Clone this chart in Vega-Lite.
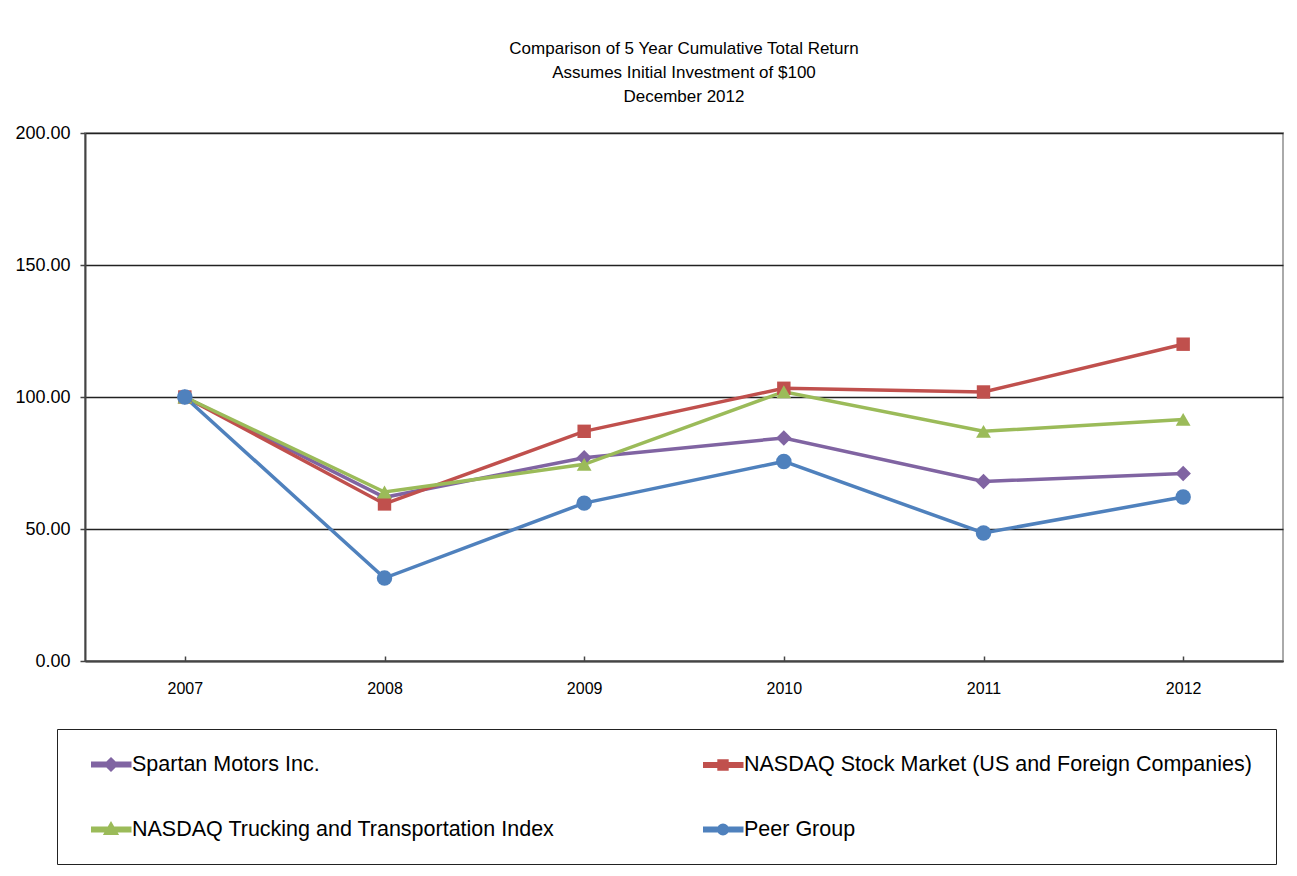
{
  "$schema": "https://vega.github.io/schema/vega-lite/v6.json",
  "autosize": "none",
  "width": 1198,
  "height": 528,
  "padding": {"left": 85, "top": 133, "right": 14, "bottom": 215},
  "background": "white",
  "title": {
    "text": ["Comparison  of 5 Year Cumulative  Total Return", "Assumes Initial Investment  of $100", "December 2012"],
    "font": "Liberation Sans",
    "fontSize": 17,
    "fontWeight": "normal",
    "color": "black",
    "anchor": "middle",
    "lineHeight": 24,
    "offset": 18
  },
  "config": {
    "font": "Liberation Sans",
    "view": {"stroke": "#aaaaaa", "strokeWidth": 2}
  },
  "data": {
    "values": [
      {"year": "2007", "series": "Spartan Motors Inc.", "value": 100},
      {"year": "2008", "series": "Spartan Motors Inc.", "value": 62},
      {"year": "2009", "series": "Spartan Motors Inc.", "value": 77},
      {"year": "2010", "series": "Spartan Motors Inc.", "value": 84.5},
      {"year": "2011", "series": "Spartan Motors Inc.", "value": 68},
      {"year": "2012", "series": "Spartan Motors Inc.", "value": 71},
      {"year": "2007", "series": "NASDAQ Stock Market (US and Foreign Companies)", "value": 100},
      {"year": "2008", "series": "NASDAQ Stock Market (US and Foreign Companies)", "value": 59.5},
      {"year": "2009", "series": "NASDAQ Stock Market (US and Foreign Companies)", "value": 87},
      {"year": "2010", "series": "NASDAQ Stock Market (US and Foreign Companies)", "value": 103.3},
      {"year": "2011", "series": "NASDAQ Stock Market (US and Foreign Companies)", "value": 101.9},
      {"year": "2012", "series": "NASDAQ Stock Market (US and Foreign Companies)", "value": 120},
      {"year": "2007", "series": "NASDAQ Trucking and Transportation Index", "value": 100},
      {"year": "2008", "series": "NASDAQ Trucking and Transportation Index", "value": 64},
      {"year": "2009", "series": "NASDAQ Trucking and Transportation Index", "value": 74.5},
      {"year": "2010", "series": "NASDAQ Trucking and Transportation Index", "value": 102},
      {"year": "2011", "series": "NASDAQ Trucking and Transportation Index", "value": 87},
      {"year": "2012", "series": "NASDAQ Trucking and Transportation Index", "value": 91.5},
      {"year": "2007", "series": "Peer Group", "value": 100},
      {"year": "2008", "series": "Peer Group", "value": 31.4},
      {"year": "2009", "series": "Peer Group", "value": 59.8},
      {"year": "2010", "series": "Peer Group", "value": 75.6},
      {"year": "2011", "series": "Peer Group", "value": 48.5},
      {"year": "2012", "series": "Peer Group", "value": 62.1}
    ]
  },
  "encoding": {
    "x": {
      "field": "year",
      "type": "ordinal",
      "scale": {"type": "point", "padding": 0.5},
      "axis": {
        "title": null,
        "labelAngle": 0,
        "labelFontSize": 16,
        "labelColor": "black",
        "domainColor": "#444",
        "domainWidth": 2,
        "tickColor": "#444",
        "tickWidth": 1.5,
        "tickSize": -5,
        "labelPadding": 24,
        "grid": false
      }
    },
    "y": {
      "field": "value",
      "type": "quantitative",
      "scale": {"domain": [0, 200]},
      "axis": {
        "title": null,
        "values": [0, 50, 100, 150, 200],
        "format": ".2f",
        "labelFontSize": 18,
        "labelColor": "black",
        "labelPadding": 10,
        "domainColor": "#444",
        "domainWidth": 2,
        "tickColor": "#444",
        "tickWidth": 1.5,
        "tickSize": 5,
        "grid": true,
        "gridColor": "#222",
        "gridWidth": 1.3,
        "gridOpacity": 1
      }
    }
  },
  "layer": [
    {
      "mark": {"type": "point", "filled": true, "opacity": 0},
      "encoding": {
        "color": {
          "field": "series",
          "type": "nominal",
          "scale": {
            "domain": ["Spartan Motors Inc.", "NASDAQ Stock Market (US and Foreign Companies)", "NASDAQ Trucking and Transportation Index", "Peer Group"],
            "range": ["#8064A2", "#C0504D", "#9BBB59", "#4F81BD"]
          },
          "legend": {
            "title": null,
            "orient": "none",
            "legendX": -28,
            "legendY": 596,
            "direction": "horizontal",
            "columns": 2,
            "columnPadding": 138,
            "rowPadding": 42,
            "padding": 24,
            "strokeColor": "#222",
            "symbolSize": 400,
            "symbolStrokeWidth": 3,
            "symbolOpacity": 1,
            "labelFontSize": 21.5,
            "labelFont": "Liberation Sans",
            "labelColor": "black",
            "labelOffset": 28,
            "labelLimit": 0
          }
        },
        "shape": {
          "field": "series",
          "type": "nominal",
          "scale": {
            "domain": ["Spartan Motors Inc.", "NASDAQ Stock Market (US and Foreign Companies)", "NASDAQ Trucking and Transportation Index", "Peer Group"],
            "range": [
              "M0,-0.15H3.75V0.15H0ZM1.85,-0.55L2.4,0L1.85,0.55L1.3,0Z",
              "M0,-0.15H3.75V0.15H0ZM1.43,-0.42H2.27V0.42H1.43Z",
              "M0,-0.15H3.75V0.15H0ZM1.85,-0.55L2.4,0.4H1.3Z",
              "M0,-0.15H3.75V0.15H0ZM2.3,0A0.45,0.45,0,1,1,1.4,0A0.45,0.45,0,1,1,2.3,0Z"
            ]
          },
          "legend": {
            "title": null,
            "orient": "none",
            "legendX": -28,
            "legendY": 596,
            "direction": "horizontal",
            "columns": 2,
            "columnPadding": 138,
            "rowPadding": 42,
            "padding": 24,
            "strokeColor": "#222",
            "symbolSize": 400,
            "symbolStrokeWidth": 3,
            "symbolOpacity": 1,
            "labelFontSize": 21.5,
            "labelFont": "Liberation Sans",
            "labelColor": "black",
            "labelOffset": 28,
            "labelLimit": 0
          }
        }
      }
    },
    {
      "mark": {"type": "line", "strokeWidth": 3.5},
      "encoding": {"color": {"field": "series", "type": "nominal", "legend": null}}
    },
    {
      "transform": [{"filter": "datum.series === 'Spartan Motors Inc.'"}],
      "mark": {"type": "point", "filled": true, "opacity": 1, "shape": "diamond", "size": 240},
      "encoding": {"color": {"field": "series", "type": "nominal", "legend": null}}
    },
    {
      "transform": [{"filter": "datum.series === 'NASDAQ Stock Market (US and Foreign Companies)'"}],
      "mark": {"type": "point", "filled": true, "opacity": 1, "shape": "square", "size": 180},
      "encoding": {"color": {"field": "series", "type": "nominal", "legend": null}}
    },
    {
      "transform": [{"filter": "datum.series === 'NASDAQ Trucking and Transportation Index'"}],
      "mark": {"type": "point", "filled": true, "opacity": 1, "shape": "triangle-up", "size": 220},
      "encoding": {"color": {"field": "series", "type": "nominal", "legend": null}}
    },
    {
      "transform": [{"filter": "datum.series === 'Peer Group'"}],
      "mark": {"type": "point", "filled": true, "opacity": 1, "shape": "circle", "size": 240},
      "encoding": {"color": {"field": "series", "type": "nominal", "legend": null}}
    }
  ]
}
